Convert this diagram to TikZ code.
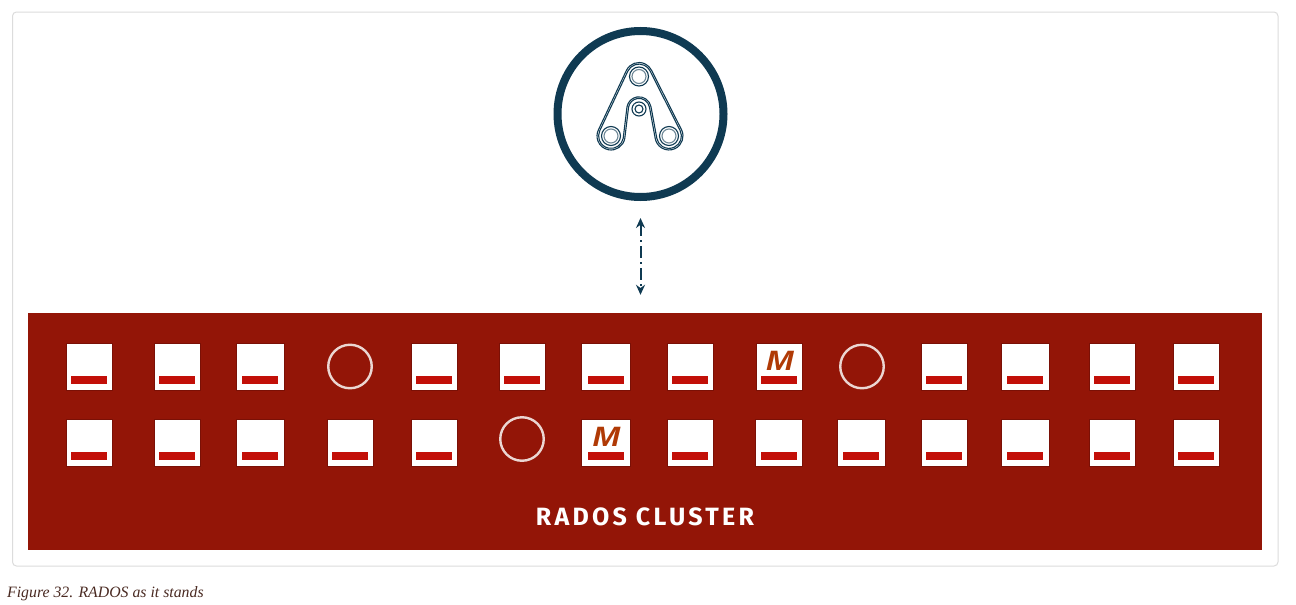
\documentclass[tikz,border=0pt]{standalone}
\usepackage{fontspec}
\setmainfont{Liberation Serif}
\newfontfamily\labelfont[LetterSpace=13]{Fira Sans}
\newfontfamily\mfont{Liberation Sans}
\usetikzlibrary{arrows.meta,calc}
\definecolor{ink}{HTML}{0F3A52}
\definecolor{rados}{HTML}{931507}
\definecolor{sqedge}{HTML}{7A1006}
\definecolor{barred}{HTML}{C20F08}
\definecolor{mred}{HTML}{B03A06}
\definecolor{ringpale}{HTML}{EBD6D2}
\definecolor{frameline}{HTML}{DCDCDC}
\definecolor{captionink}{HTML}{4A2A22}
\tikzset{
  framebox/.style={draw=frameline,line width=1pt,rounded corners=4pt,fill=white},
  clusterbox/.style={fill=rados,draw=none,inner sep=0pt,minimum width=1234pt,minimum height=237pt},
  sqbox/.style={fill=white,draw=sqedge,line width=0.4pt,inner sep=0pt,minimum height=47.6pt},
  barbox/.style={fill=barred,draw=none,inner sep=0pt,minimum width=36pt,minimum height=8pt},
  mglyph/.style={text=mred,inner sep=0pt,font=\mfont\bfseries\itshape\fontsize{28}{28}\selectfont,xscale=1.18},
  osdring/.style={circle,draw=ringpale,line width=2.4pt,inner sep=0pt,minimum size=43.5pt},
  monring/.style={circle,draw=ink,line width=8pt,fill=white,inner sep=0pt,minimum size=166pt},
  belt/.style={draw=ink,line width=1.1pt,line join=round},
  pulley/.style={draw=ink,line width=1.1pt},
  link/.style={draw=ink,line width=2pt,dash pattern=on 12pt off 4pt on 2pt off 4pt,{Stealth[length=10pt,width=9pt]}-{Stealth[length=10pt,width=9pt]}},
  clustertitle/.style={text=white,inner sep=0pt,font=\labelfont\bfseries\fontsize{25}{25}\selectfont},
  captiontext/.style={text=captionink,inner sep=0pt,anchor=west,font=\itshape\fontsize{15.8}{18}\selectfont}
}
\newcommand\osdbox[4]{%
  \node[sqbox,minimum width=#4pt+0.6pt] (#1) at (#2,#3) {};
  \node[barbox] (#1b) at ([yshift=-13.5pt]#1.center) {};
}
\newcommand\monbox[4]{%
  \osdbox{#1}{#2}{#3}{#4}
  \node[mglyph] (#1m) at ([yshift=5.5pt,xshift=1pt]#1.center) {M};
}
\begin{document}
\begin{tikzpicture}[x=1pt,y=-1pt]
\useasboundingbox (0,0) rectangle (1296,605);
\fill[white] (0,0) rectangle (1296,605);
\path[framebox] (12.5,12) rectangle (1278,566);
\node[clusterbox] (cluster) at (645,431.5) {};
\node[monring] (mon) at (640.5,114) {};
% row 1
\osdbox{a1}{89}{366.5}{46}
\osdbox{a2}{177}{366.5}{46}
\osdbox{a3}{260}{366.5}{48}
\node[osdring] (a4) at (350,366.5) {};
\osdbox{a5}{434}{366.5}{46}
\osdbox{a6}{522}{366.5}{46}
\osdbox{a7}{605.5}{366.5}{48}
\osdbox{a8}{690}{366.5}{46}
\monbox{a9}{779}{366.5}{46}
\node[osdring] (a10) at (862,366.5) {};
\osdbox{a11}{944}{366.5}{46}
\osdbox{a12}{1025}{366.5}{48}
\osdbox{a13}{1112}{366.5}{46}
\osdbox{a14}{1196}{366.5}{46}
% row 2
\osdbox{b1}{89}{442.5}{46}
\osdbox{b2}{177}{442.5}{46}
\osdbox{b3}{260}{442.5}{48}
\osdbox{b4}{350}{442.5}{46}
\osdbox{b5}{434}{442.5}{46}
\node[osdring] (b6) at (522,439) {};
\monbox{b7}{605.5}{442.5}{48}
\osdbox{b8}{690}{442.5}{46}
\osdbox{b9}{778.5}{442.5}{47}
\osdbox{b10}{861}{442.5}{48}
\osdbox{b11}{944}{442.5}{46}
\osdbox{b12}{1025}{442.5}{48}
\osdbox{b13}{1112}{442.5}{46}
\osdbox{b14}{1196}{442.5}{46}
\node[clustertitle] (title) at (645,517) {RADOS\hspace{9pt}CLUSTER};
\node[captiontext] (caption) at (7,593.5) {Figure 32. RADOS as it stands};
% logo: belt over three pulleys and an idler
\foreach \rb/\rm in {14/10.6,12.4/12.2}{
  \path[belt]
    ([shift={(205.2:\rb)}]639,76.5) arc[start angle=205.2,end angle=333.2,radius=\rb]
    -- ([shift={(333.2:\rb)}]669,136) arc[start angle=333.2,end angle=529.5,radius=\rb]
    -- ([shift={(-10.5:\rm)}]639,109) arc[start angle=-10.5,end angle=-169.5,radius=\rm]
    -- ([shift={(10.5:\rb)}]611,136) arc[start angle=10.5,end angle=205.2,radius=\rb]
    -- cycle;
}
\foreach \c in {(639,76.5),(611,136),(669,136)}{
  \path[pulley] \c circle[radius=9.5];
  \path[pulley,draw opacity=.6] \c circle[radius=7];
}
\path[pulley] (639,109) circle[radius=7];
\path[pulley] (639,109) circle[radius=4];
% link between the monitor and the cluster
\path[link] ([yshift=-17pt]mon.south) -- ([yshift=18pt]mon.south |- cluster.north);
\end{tikzpicture}
\end{document}
